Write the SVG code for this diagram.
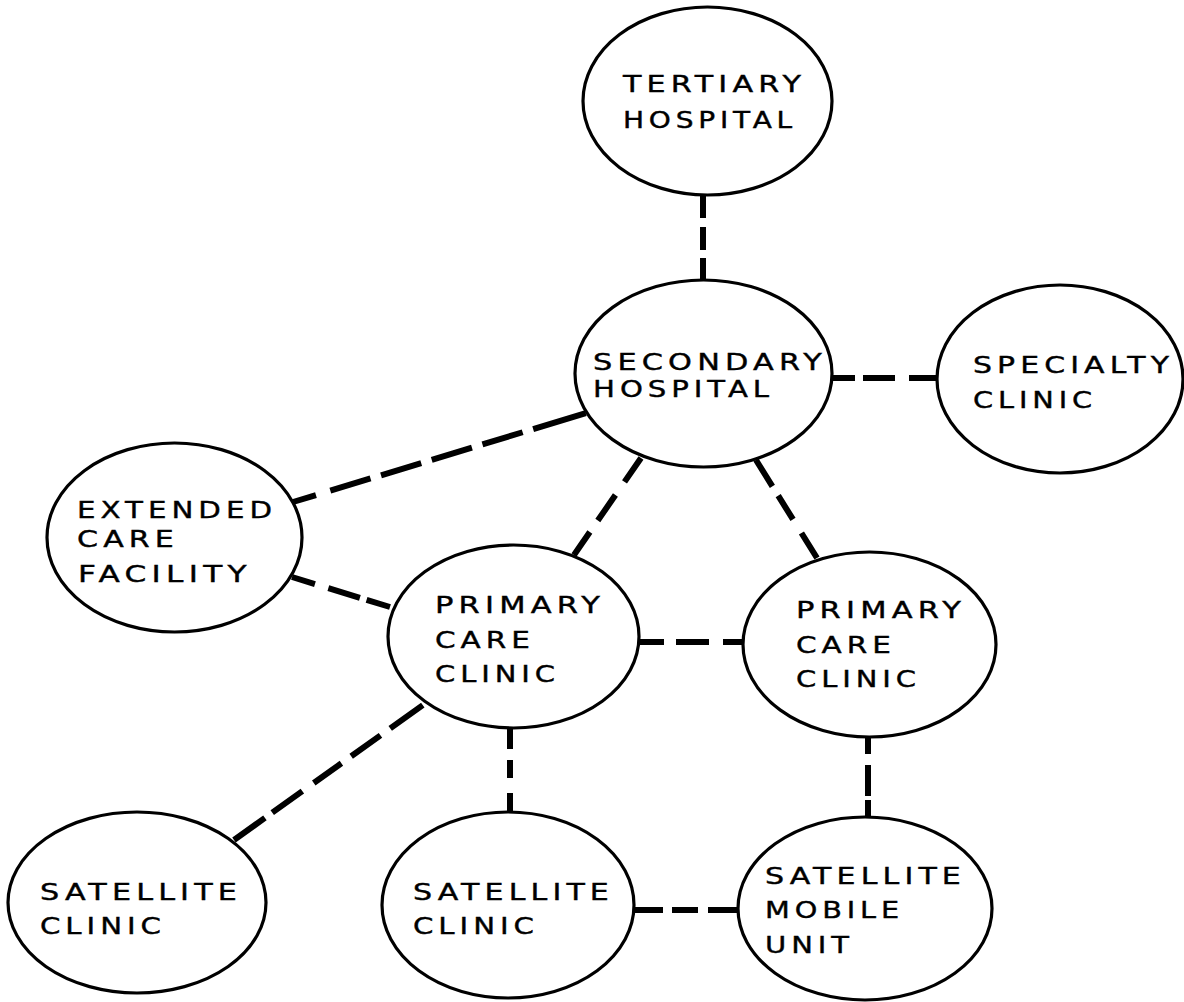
<svg xmlns="http://www.w3.org/2000/svg" width="1184" height="1002" viewBox="0 0 1184 1002">
<style>
.node ellipse{fill:#fff;stroke:#000;stroke-width:3.2}
.node text{font-family:"DejaVu Sans","Liberation Sans",Arial,sans-serif;font-size:23.5px;letter-spacing:4px;fill:#000;stroke:#000;stroke-width:0.4}
.conn line{stroke:#000;stroke-width:6;fill:none}
</style>
<rect width="1184" height="1002" fill="#fff"/>
<g id="connectors" class="conn">
<line x1="703" y1="196" x2="703" y2="281" stroke-dasharray="22 9 23 8 23"/>
<line x1="832" y1="378" x2="937" y2="378" stroke-dasharray="23 8 32 14 30"/>
<line x1="293" y1="502" x2="586" y2="413" stroke-dasharray="24 15 42 11 42 11 42 11 42 11 55"/>
<line x1="641" y1="458" x2="574" y2="555" stroke-dasharray="29 16 31 14 28"/>
<line x1="756" y1="460" x2="817" y2="558" stroke-dasharray="31 11 28 16 30"/>
<line x1="292" y1="577" x2="390" y2="607" stroke-dasharray="24 14 33 7 26"/>
<line x1="639" y1="642" x2="743" y2="642" stroke-dasharray="25 12 33 14 22"/>
<line x1="234" y1="840" x2="423" y2="705" stroke-dasharray="38 9 37 14 34 12 36 12 40"/>
<line x1="510" y1="729" x2="510" y2="812" stroke-dasharray="20 11 18 15 19"/>
<line x1="868" y1="737" x2="868" y2="817" stroke-dasharray="17 11 31 4 18"/>
<line x1="634" y1="910" x2="738" y2="910" stroke-dasharray="29 9 26 10 30"/>
</g>
<g id="tertiary-hospital" class="node">
<ellipse cx="707.5" cy="101" rx="124.5" ry="94"/>
<text x="623" y="92" textLength="183" lengthAdjust="spacingAndGlyphs">TERTIARY</text>
<text x="623" y="128" textLength="174" lengthAdjust="spacingAndGlyphs">HOSPITAL</text>
</g>
<g id="secondary-hospital" class="node">
<ellipse cx="703.5" cy="373.5" rx="128.5" ry="93.5"/>
<text x="593" y="370" textLength="234" lengthAdjust="spacingAndGlyphs">SECONDARY</text>
<text x="593" y="397" textLength="181" lengthAdjust="spacingAndGlyphs">HOSPITAL</text>
</g>
<g id="specialty-clinic" class="node">
<ellipse cx="1060" cy="379" rx="123" ry="94"/>
<text x="973" y="373" textLength="201" lengthAdjust="spacingAndGlyphs">SPECIALTY</text>
<text x="973" y="408" textLength="124" lengthAdjust="spacingAndGlyphs">CLINIC</text>
</g>
<g id="extended-care-facility" class="node">
<ellipse cx="174.5" cy="537.5" rx="127.5" ry="94.5"/>
<text x="77" y="518" textLength="200" lengthAdjust="spacingAndGlyphs">EXTENDED</text>
<text x="77" y="547" textLength="102" lengthAdjust="spacingAndGlyphs">CARE</text>
<text x="78" y="582" textLength="174" lengthAdjust="spacingAndGlyphs">FACILITY</text>
</g>
<g id="primary-care-clinic-left" class="node">
<ellipse cx="513.5" cy="636.5" rx="125.5" ry="91.5"/>
<text x="435" y="613" textLength="170" lengthAdjust="spacingAndGlyphs">PRIMARY</text>
<text x="435" y="648" textLength="100" lengthAdjust="spacingAndGlyphs">CARE</text>
<text x="435" y="682" textLength="125" lengthAdjust="spacingAndGlyphs">CLINIC</text>
</g>
<g id="primary-care-clinic-right" class="node">
<ellipse cx="869.5" cy="644.5" rx="126.5" ry="92.5"/>
<text x="796" y="618" textLength="170" lengthAdjust="spacingAndGlyphs">PRIMARY</text>
<text x="796" y="653" textLength="100" lengthAdjust="spacingAndGlyphs">CARE</text>
<text x="796" y="687" textLength="125" lengthAdjust="spacingAndGlyphs">CLINIC</text>
</g>
<g id="satellite-clinic-left" class="node">
<ellipse cx="137" cy="902.5" rx="129" ry="90.5"/>
<text x="40" y="900" textLength="202" lengthAdjust="spacingAndGlyphs">SATELLITE</text>
<text x="40" y="934" textLength="126" lengthAdjust="spacingAndGlyphs">CLINIC</text>
</g>
<g id="satellite-clinic-middle" class="node">
<ellipse cx="508" cy="905" rx="126" ry="93"/>
<text x="413" y="900" textLength="201" lengthAdjust="spacingAndGlyphs">SATELLITE</text>
<text x="413" y="934" textLength="126" lengthAdjust="spacingAndGlyphs">CLINIC</text>
</g>
<g id="satellite-mobile-unit" class="node">
<ellipse cx="865" cy="908.5" rx="127" ry="91.5"/>
<text x="765" y="884" textLength="201" lengthAdjust="spacingAndGlyphs">SATELLITE</text>
<text x="765" y="918" textLength="139" lengthAdjust="spacingAndGlyphs">MOBILE</text>
<text x="765" y="953" textLength="89" lengthAdjust="spacingAndGlyphs">UNIT</text>
</g>
</svg>
